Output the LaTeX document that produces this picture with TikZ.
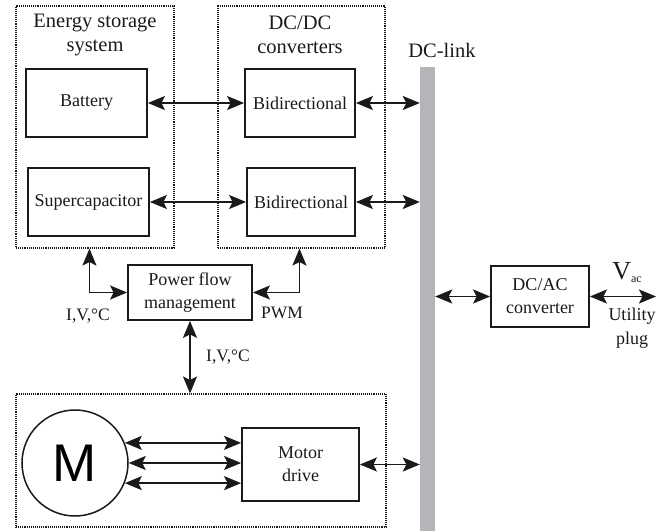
\documentclass[tikz,border=0pt]{standalone}
\usepackage{fontspec}
\setmainfont{Liberation Serif}
\newfontfamily\motorfont{Liberation Sans}
\usetikzlibrary{arrows.meta,positioning,calc}
\definecolor{ink}{HTML}{1A1A1A}
\definecolor{link}{HTML}{B4B5B9}
\tikzset{
  tip/.tip={Stealth[length=17pt,width=14pt,inset=3.5pt]},
  blk/.style={draw=ink, line width=1.8pt, fill=white, align=center, inner sep=0pt,
    font=\fontsize{18}{23}\selectfont, text=ink},
  grp/.style={draw=ink, line width=1.1pt, densely dotted, inner sep=0pt},
  biarr/.style={{tip}-{tip}, draw=ink, line width=1.8pt},
  hdr/.style={align=center, font=\fontsize{20.5}{24}\selectfont, text=ink},
  lbl/.style={align=center, font=\fontsize{17.5}{24}\selectfont, text=ink},
}

\begin{document}
\begin{tikzpicture}[x=1pt,y=-1pt]
  \useasboundingbox (0,0) rectangle (670,531);

  % ---------------- groups ----------------
  \node[grp, minimum width=158pt, minimum height=242pt] (ess) at (95,127) {};
  \node[grp, minimum width=167pt, minimum height=242pt] (dcdc) at (301.5,127) {};
  \node[grp, minimum width=370pt, minimum height=133pt] (mot) at (201,460.5) {};
  \node[hdr] (esslab) at (95,35) {Energy storage\\system};
  \node[hdr] (dcdclab) at (300,35) {DC/DC\\converters};

  % ---------------- DC-link ----------------
  \node[fill=link, inner sep=0pt, minimum width=15pt, minimum height=464pt] (bar) at (427.5,299) {};
  \node[hdr] (barlab) at (442,50) {DC-link};

  % ---------------- storage and converters ----------------
  \node[blk, minimum width=121pt, minimum height=68pt] (bat) at (86.5,103) {Battery};
  \node[blk, minimum width=121pt, minimum height=68pt] (sc) at (88.5,202) {Supercapacitor};
  \node[blk, minimum width=110pt, minimum height=68pt] (bid1) at (300,103) {Bidirectional};
  \node[blk, minimum width=108pt, minimum height=68pt] (bid2) at (301,202) {Bidirectional};
  \draw[biarr] (bat) -- (bid1);
  \draw[biarr] (sc) -- (bid2);
  \draw[biarr] (bid1.east) -- (bid1.east -| bar.west);
  \draw[biarr] (bid2.east) -- (bid2.east -| bar.west);

  % ---------------- power flow management ----------------
  \node[blk, minimum width=124pt, minimum height=55pt] (pfm) at (190,292.5) {Power flow\\management};
  \draw[biarr] (pfm.west) -| ([xshift=74pt]ess.south west);
  \draw[biarr] (pfm.east) -| ([xshift=82pt]dcdc.south west);
  \draw[biarr] (pfm.south) -- (pfm.south |- mot.north);
  \node[lbl] (sensl) at (88,316) {I,V,°C};
  \node[lbl] (pwm) at (282,313) {PWM};
  \node[lbl] (sensm) at (228,357) {I,V,°C};

  % ---------------- motor ----------------
  \node[circle, draw=ink, line width=1.5pt, minimum size=106pt, inner sep=0pt,
    font=\motorfont\fontsize{53}{53}\selectfont] (motor) at (75,463) {M};
  \node[blk, minimum width=117pt, minimum height=73pt] (drv) at (300.5,464.5) {Motor\\drive};
  \draw[biarr] (motor.22) -- (motor.22 -| drv.west);
  \draw[biarr] (motor.0) -- (motor.0 -| drv.west);
  \draw[biarr] (motor.-22) -- (motor.-22 -| drv.west);
  \draw[biarr] (drv.east) -- (drv.east -| bar.west);

  % ---------------- utility side ----------------
  \node[blk, minimum width=98pt, minimum height=61pt] (dcac) at (540,296.5) {DC/AC\\converter};
  \coordinate (plug) at (656,296.5);
  \draw[biarr] (bar.east |- dcac.west) -- (dcac.west);
  \draw[biarr] (dcac.east) -- (plug);
  \node[text=ink, font=\fontsize{26}{26}\selectfont, inner sep=0pt] (vac) at (627,273)
    {V\raisebox{-3pt}{\fontsize{12}{12}\selectfont ac}};
  \node[lbl, font=\fontsize{18}{24}\selectfont] (util) at (632,328) {Utility\\plug};
\end{tikzpicture}
\end{document}
